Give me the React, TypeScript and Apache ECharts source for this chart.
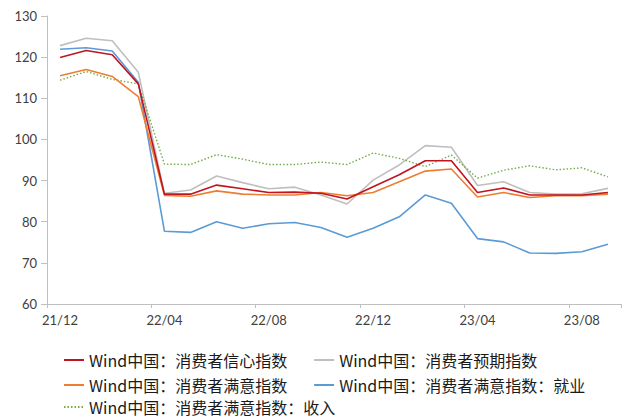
import React, { useEffect, useRef } from "react";
import * as echarts from "echarts";

const categories = [
  "21/12",
  "22/01", "22/02", "22/03", "22/04", "22/05", "22/06", "22/07", "22/08", "22/09", "22/10", "22/11", "22/12",
  "23/01", "23/02", "23/03", "23/04", "23/05", "23/06", "23/07", "23/08", "23/09",
];

const confidence = [119.9, 121.6, 120.6, 113.5, 86.7, 86.7, 88.9, 88.0, 87.1, 87.2, 86.9, 85.5, 88.5, 91.4, 94.8, 94.8, 87.1, 88.2, 86.5, 86.5, 86.5, 87.1];
const expectation = [122.8, 124.6, 124.0, 116.3, 86.9, 87.7, 91.1, 89.5, 88.0, 88.4, 86.5, 84.3, 90.1, 93.8, 98.5, 98.1, 88.8, 89.7, 87.1, 86.7, 86.8, 88.1];
const satisfaction = [115.5, 117.0, 115.3, 110.4, 86.4, 86.2, 87.5, 86.7, 86.5, 86.5, 87.1, 86.3, 87.1, 89.7, 92.3, 92.8, 86.0, 87.1, 85.9, 86.3, 86.3, 86.7];
const employment = [121.9, 122.3, 121.5, 113.9, 77.7, 77.4, 80.0, 78.4, 79.5, 79.8, 78.6, 76.2, 78.4, 81.2, 86.5, 84.5, 75.9, 75.1, 72.4, 72.3, 72.7, 74.5];
const income = [114.4, 116.5, 114.6, 113.5, 94.0, 93.9, 96.3, 95.2, 93.9, 93.9, 94.5, 93.9, 96.7, 95.4, 93.4, 96.2, 90.6, 92.5, 93.6, 92.6, 93.1, 90.9];

const names = [
  "Wind中国：消费者信心指数",
  "Wind中国：消费者预期指数",
  "Wind中国：消费者满意指数",
  "Wind中国：消费者满意指数：就业",
  "Wind中国：消费者满意指数：收入",
];

export default function App() {
  const ref = useRef<HTMLDivElement>(null);
  useEffect(() => {
    if (!ref.current) return;
    const chart = echarts.init(ref.current, null, { renderer: "svg" });
    const axisFont = { fontFamily: "Lato, 'Liberation Sans', sans-serif", fontSize: 13, color: "#404040" };
    const legendBase = {
      left: 63,
      orient: "horizontal" as const,
      itemWidth: 20,
      itemHeight: 14,
      itemGap: 26,
      padding: 0,
      itemStyle: { opacity: 0 },
      textStyle: { fontFamily: "'Noto Sans CJK SC', sans-serif", fontSize: 16, lineHeight: 16, color: "#1a1a1a" },
    };
    const mk = (name: string, data: number[], color: string, type: any = "solid", width = 1.6) => ({
      name,
      type: "line",
      data,
      symbol: "none",
      smooth: false,
      lineStyle: { color, width, type },
      itemStyle: { color },
    });
    chart.setOption({
      animation: false,
      grid: { left: 47, right: 8, top: 16, bottom: 115, containLabel: false },
      legend: [
        { ...legendBase, top: 352, data: [names[0], names[1]] },
        { ...legendBase, top: 377, data: [names[2], names[3]] },
        { ...legendBase, top: 399, data: [names[4]] },
      ],
      xAxis: {
        type: "category",
        data: categories,
        boundaryGap: true,
        axisLine: { lineStyle: { color: "#bfbfbf", width: 1 } },
        axisTick: { show: true, interval: 3, length: 4, lineStyle: { color: "#bfbfbf" } },
        axisLabel: { ...axisFont, interval: 3, margin: 9 },
        splitLine: { show: false },
      },
      yAxis: {
        type: "value",
        min: 60,
        max: 130,
        interval: 10,
        axisLine: { show: true, lineStyle: { color: "#bfbfbf", width: 1 } },
        axisTick: { show: true, length: 6, lineStyle: { color: "#bfbfbf" } },
        axisLabel: { ...axisFont, margin: 10 },
        splitLine: { show: false },
      },
      series: [
        mk(names[1], expectation, "#bfbfbf"),
        mk(names[4], income, "#70ad47", [1.5, 2], 1.4),
        mk(names[3], employment, "#5b9bd5"),
        mk(names[2], satisfaction, "#ed7d31"),
        mk(names[0], confidence, "#c0141e"),
      ],
    });
    return () => chart.dispose();
  }, []);
  return <div ref={ref} style={{ width: 629, height: 419, position: "absolute", left: 0, top: 0 }} />;
}
